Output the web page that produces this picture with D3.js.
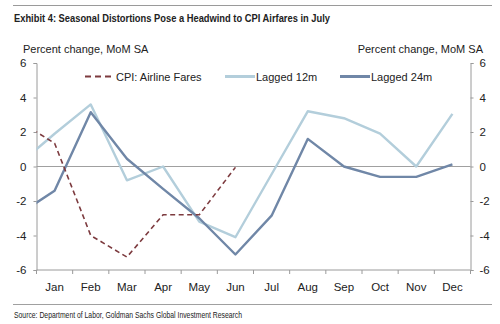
<!DOCTYPE html>
<html>
<head>
<meta charset="utf-8">
<script src="https://cdn.jsdelivr.net/npm/d3@7"></script>
<style>
  html, body { margin: 0; padding: 0; background: #fff; }
  svg { display: block; }
  text { font-family: "Liberation Sans", Arial, sans-serif; fill: #222; }
</style>
</head>
<body>
<svg id="chart" width="500" height="324"></svg>
<script>
// Month categories along the x axis
const months = ["Jan", "Feb", "Mar", "Apr", "May", "Jun", "Jul", "Aug", "Sep", "Oct", "Nov", "Dec"];

// Month-over-month % change, seasonally adjusted.
// The "prior" value is the preceding December, which runs off the left edge.
const cpiPrior = 2.65;
const cpiAirfares = [1.35, -4.0, -5.25, -2.8, -2.8, -0.05];

const lag12Prior = 0.1;
const lagged12m = [1.9, 3.6, -0.8, 0.0, -3.2, -4.1, -0.45, 3.2, 2.8, 1.9, 0.0, 3.05];

const lag24Prior = -2.8;
const lagged24m = [-1.4, 3.15, 0.45, -1.3, -3.0, -5.1, -2.85, 1.6, 0.0, -0.6, -0.6, 0.12];

const yTicks = [6, 4, 2, 0, -2, -4, -6];

const title = "Exhibit 4: Seasonal Distortions Pose a Headwind to CPI Airfares in July";
const axisTitle = "Percent change, MoM SA";
const source = "Source: Department of Labor, Goldman Sachs Global Investment Research";

const seriesDefs = [
  { name: "CPI: Airline Fares", prior: cpiPrior, values: cpiAirfares, color: "#7d3b3f", width: 1.6, dash: "5,3.5" },
  { name: "Lagged 12m", prior: lag12Prior, values: lagged12m, color: "#b3cedb", width: 2.4, dash: null },
  { name: "Lagged 24m", prior: lag24Prior, values: lagged24m, color: "#7087a7", width: 2.4, dash: null }
];

const svg = d3.select("#chart");
const plot = { left: 36.5, right: 470.5, top: 63, bottom: 270 };

const xBand = d3.scaleBand().domain(months).range([plot.left, plot.right]);
// index scale: month i sits in the middle of its band
const xi = d3.scaleLinear().domain([-0.5, months.length - 0.5]).range([plot.left, plot.right]);
const y = d3.scaleLinear().domain([-6, 6]).range([plot.bottom, plot.top]);

// plain hyphen for negative tick labels
const fmt = d => String(d);

// Frame rules and title
svg.append("line").attr("x1", 13).attr("x2", 492).attr("y1", 5.5).attr("y2", 5.5)
  .attr("stroke", "#9a9a9a").attr("stroke-width", 1);
svg.append("text").attr("x", 14).attr("y", 21.5)
  .attr("font-family", "'Liberation Sans Narrow', 'Arial Narrow', sans-serif")
  .attr("font-weight", "bold").attr("font-size", 11.5)
  .attr("textLength", 316).attr("lengthAdjust", "spacingAndGlyphs")
  .text(title);

svg.append("text").attr("x", 23).attr("y", 52.5).attr("font-size", 11).text(axisTitle);
svg.append("text").attr("x", 483).attr("y", 52.5).attr("font-size", 11)
  .attr("text-anchor", "end").text(axisTitle);

// Axes
const axisColor = "#9a9a9a";
const leftAxis = svg.append("g").attr("transform", `translate(${plot.left},0)`)
  .call(d3.axisLeft(y).tickValues(yTicks).tickSize(3).tickPadding(7).tickFormat(fmt));
const rightAxis = svg.append("g").attr("transform", `translate(${plot.right},0)`)
  .call(d3.axisRight(y).tickValues(yTicks).tickSize(3).tickPadding(6).tickFormat(fmt));
const bottomAxis = svg.append("g").attr("transform", `translate(0,${plot.bottom})`)
  .call(d3.axisBottom(xBand).tickSize(0).tickPadding(13));

[leftAxis, rightAxis, bottomAxis].forEach(g => {
  g.select(".domain").attr("stroke", axisColor);
  g.selectAll(".tick line").attr("stroke", axisColor);
  g.selectAll(".tick text").attr("font-size", 11.5).attr("fill", "#222")
    .attr("font-family", "'Liberation Sans', Arial, sans-serif");
});
bottomAxis.select(".domain").attr("d", `M${plot.left},0H${plot.right}`);

// tick marks at the month boundaries
const boundaries = d3.range(months.length + 1).map(i => xi(i - 0.5));
svg.append("g").selectAll("line").data(boundaries).join("line")
  .attr("x1", d => d).attr("x2", d => d)
  .attr("y1", plot.bottom).attr("y2", plot.bottom + 4)
  .attr("stroke", axisColor);

// zero line
svg.append("line").attr("x1", plot.left).attr("x2", plot.right)
  .attr("y1", y(0)).attr("y2", y(0)).attr("stroke", "#a0a0a0").attr("stroke-width", 1);

// Series lines, clipped to the plot area
svg.append("clipPath").attr("id", "plotClip").append("rect")
  .attr("x", plot.left).attr("y", plot.top - 10)
  .attr("width", plot.right - plot.left).attr("height", plot.bottom - plot.top + 20);

const line = d3.line().x(d => xi(d.i)).y(d => y(d.v));
const lines = svg.append("g").attr("clip-path", "url(#plotClip)");
[seriesDefs[1], seriesDefs[2], seriesDefs[0]].forEach(s => {
  const pts = [{ i: -1, v: s.prior }].concat(s.values.map((v, i) => ({ i, v })));
  lines.append("path").datum(pts)
    .attr("d", line)
    .attr("fill", "none")
    .attr("stroke", s.color)
    .attr("stroke-width", s.width)
    .attr("stroke-linejoin", "round")
    .attr("stroke-dasharray", s.dash);
});

// Legend
const legendPos = [{ x: 85, tx: 116 }, { x: 225, tx: 256 }, { x: 340, tx: 371 }];
const legend = svg.append("g");
seriesDefs.forEach((s, k) => {
  const p = legendPos[k];
  legend.append("line").attr("x1", p.x).attr("x2", p.x + 30)
    .attr("y1", 76.5).attr("y2", 76.5)
    .attr("stroke", s.color).attr("stroke-width", s.dash ? 1.8 : 3)
    .attr("stroke-dasharray", s.dash ? "6,4" : null);
  legend.append("text").attr("x", p.tx).attr("y", 80.5).attr("font-size", 11).text(s.name);
});

// Footer
svg.append("line").attr("x1", 13).attr("x2", 492).attr("y1", 304.5).attr("y2", 304.5)
  .attr("stroke", "#a0a0a0").attr("stroke-width", 1);
svg.append("text").attr("x", 14).attr("y", 318)
  .attr("font-family", "'Liberation Sans Narrow', 'Arial Narrow', sans-serif")
  .attr("font-size", 9).attr("fill", "#333")
  .attr("textLength", 228).attr("lengthAdjust", "spacingAndGlyphs")
  .text(source);
</script>
</body>
</html>
